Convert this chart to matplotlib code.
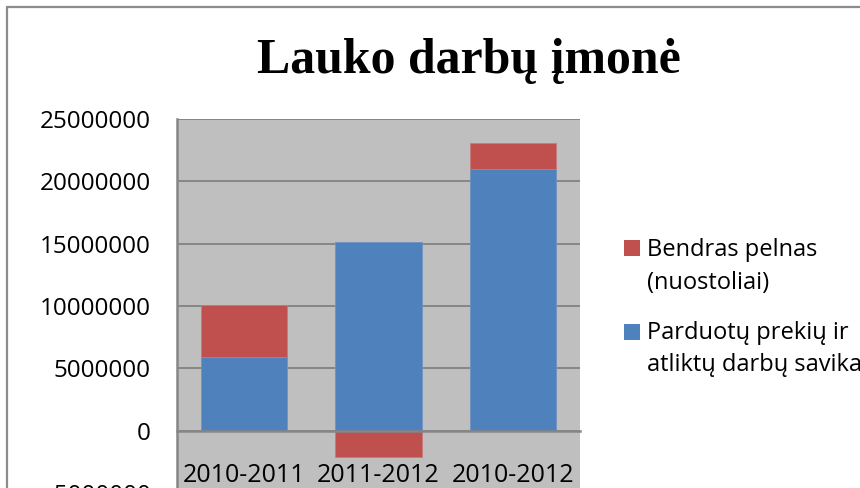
import matplotlib
matplotlib.use("Agg")
import matplotlib.pyplot as plt
from matplotlib.patches import Rectangle
import numpy as np

# Data
categories = ["2010-2011", "2011-2012", "2010-2012"]
savikaina = [5.9e6, 15.1e6, 21.0e6]        # Parduotų prekių ir atliktų darbų savikaina
pelnas = [4.15e6, -2.1e6, 2.05e6]          # Bendras pelnas (nuostoliai)
y_ticks = [-5000000, 0, 5000000, 10000000, 15000000, 20000000, 25000000]
y_labels = ["-5000000", "0", "5000000", "10000000", "15000000", "20000000", "25000000"]

title = "Lauko darbų įmonė"
legend_lines = [["Bendras pelnas", "(nuostoliai)"],
                ["Parduotų prekių ir", "atliktų darbų savikaina"]]

BLUE = "#4F81BD"
RED = "#C0504D"
PLOT_BG = "#BFBFBF"
GRID = "#868686"

plt.rcParams["font.family"] = ["Open Sans", "DejaVu Sans"]

W, H = 860, 488
fig = plt.figure(figsize=(W / 100, H / 100), dpi=100)

def fx(px):
    return px / W

def fy(py):
    return 1 - py / H

# Chart frame
fig.patches.append(Rectangle((fx(7), -0.1), 1.2, fy(7) + 0.1, transform=fig.transFigure,
                             fill=False, edgecolor="#8C8C8C", linewidth=1.6, zorder=0))

# Plot area (bottom extends past the figure edge)
left, right, top, bottom = 177, 580, 119, 493
ax = fig.add_axes([fx(left), fy(bottom), (right - left) / W, (bottom - top) / H])
ax.set_facecolor(PLOT_BG)

x = np.arange(len(categories))
width = 0.645
pos_base = np.zeros(len(categories))
neg_base = np.zeros(len(categories))

blue = np.array(savikaina)
red = np.array(pelnas)
ax.bar(x, blue, width, bottom=np.where(blue >= 0, pos_base, neg_base), color=BLUE,
       edgecolor="#6E93C4", linewidth=0.6, zorder=3)
pos_base += np.where(blue >= 0, blue, 0)
neg_base += np.where(blue < 0, blue, 0)
ax.bar(x, red, width, bottom=np.where(red >= 0, pos_base, neg_base), color=RED,
       edgecolor="#C77A78", linewidth=0.6, zorder=3)

ax.set_xlim(-0.5, len(categories) - 0.5)
ax.set_ylim(y_ticks[0], y_ticks[-1])
ax.set_yticks(y_ticks)
ax.set_yticklabels(y_labels)
ax.yaxis.grid(True, color=GRID, linewidth=1.4, zorder=1)
ax.set_axisbelow(True)

for s in ["top", "right"]:
    ax.spines[s].set_visible(False)
ax.spines["left"].set_color(GRID)
ax.spines["left"].set_linewidth(1.8)
ax.spines["bottom"].set_position(("data", 0))
ax.spines["bottom"].set_color(GRID)
ax.spines["bottom"].set_linewidth(1.8)
ax.spines["bottom"].set_zorder(4)

ax.set_xticks(x)
ax.set_xticklabels(categories)
ax.tick_params(axis="x", length=0, pad=23, labelsize=18, labelcolor="black")
ax.tick_params(axis="y", length=0, pad=19, labelsize=17.5, labelcolor="black")

# Title
fig.text(fx(468.5), fy(72.5), title, ha="center", va="baseline",
         fontfamily="Liberation Serif", fontweight="bold", fontsize=35.8)

# Legend: colour key and two text lines per entry
entries = [(RED, 240, legend_lines[0], (256, 289)),
           (BLUE, 324, legend_lines[1], (339, 371))]
for color, key_top, lines, baselines in entries:
    fig.patches.append(Rectangle((fx(624), fy(key_top + 16)), 16 / W, 16 / H,
                                 transform=fig.transFigure, facecolor=color, edgecolor="none"))
    for line, base in zip(lines, baselines):
        fig.text(fx(647), fy(base), line, ha="left", va="baseline", fontsize=17)

fig.savefig("out.png", dpi=100)
